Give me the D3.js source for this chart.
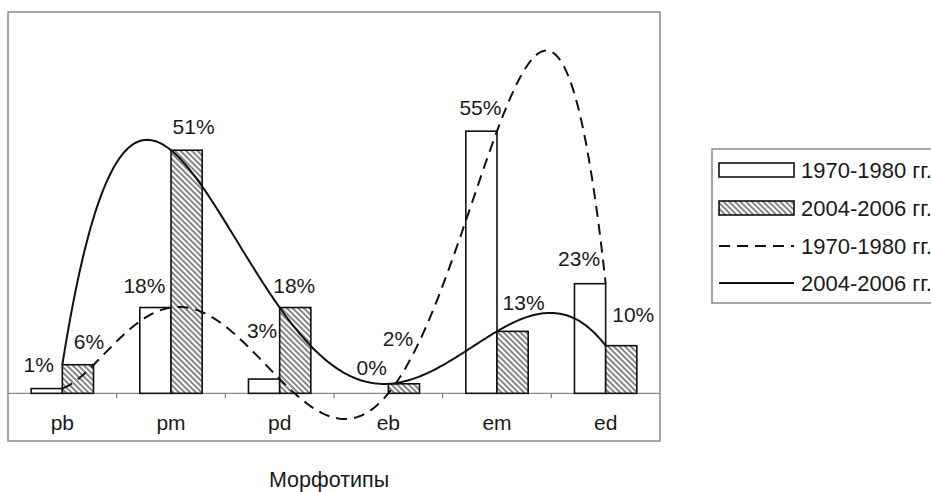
<!DOCTYPE html>
<html><head><meta charset="utf-8">
<script src="https://cdn.jsdelivr.net/npm/d3@7"></script>
<style>
html,body{margin:0;padding:0;background:#fff;}
svg{display:block;font-family:"Liberation Sans",Arial,sans-serif;}
</style></head>
<body>
<svg id="chart" width="931" height="492"></svg>
<script>
// ---- data ----
const categories = ["pb","pm","pd","eb","em","ed"];
const series1970 = [1, 18, 3, 0, 55, 23];     // 1970-1980 гг.
const series2004 = [6, 51, 18, 2, 13, 10];    // 2004-2006 гг.
const labelName1970 = "1970-1980 гг.";
const labelName2004 = "2004-2006 гг.";
const axisTitle = "Морфотипы";
const yDomain = [-10, 80];
// manual label nudges (dx, dy from bar top), as placed in the original
const nudge1970 = [[-8,-17],[-11,-15],[-2,-41],[-1,-18],[-1,-16],[-11,-18]];
const nudge2004 = [[11,-16],[7,-16],[-1,-15],[-6,-38],[11,-21],[12,-24]];

const svg = d3.select("#chart");
const ink = "#1a1a1a";
const fs = 21;
const frame = {l:8, r:660, t:12, b:441};

const x = d3.scaleBand().domain(categories).range([frame.l, frame.r]).padding(0);
const y = d3.scaleLinear().domain(yDomain).range([frame.b, frame.t]);
const bw = x.bandwidth() * 0.287;
const cx = c => x(c) + x.bandwidth()/2;

// hatch pattern
const defs = svg.append("defs");
const pat = defs.append("pattern").attr("id","hatch")
  .attr("patternUnits","userSpaceOnUse").attr("width",4).attr("height",4)
  .attr("patternTransform","rotate(-45)");
pat.append("rect").attr("width",4).attr("height",4).attr("fill","#fff");
pat.append("line").attr("x1",1).attr("y1",0).attr("x2",1).attr("y2",4)
  .attr("stroke","#222").attr("stroke-width",1.1);

// frame
svg.append("rect").attr("x",frame.l).attr("y",frame.t)
  .attr("width",frame.r-frame.l).attr("height",frame.b-frame.t)
  .attr("fill","none").attr("stroke","#8a8a8a").attr("stroke-width",1.5);

// zero line + ticks
const y0 = y(0);
svg.append("line").attr("x1",frame.l).attr("x2",frame.r).attr("y1",y0).attr("y2",y0)
  .attr("stroke","#8a8a8a").attr("stroke-width",1.3);
svg.append("g").selectAll("line").data(categories.slice(1)).join("line")
  .attr("x1",d=>x(d)).attr("x2",d=>x(d)).attr("y1",y0).attr("y2",y0+5)
  .attr("stroke","#8a8a8a").attr("stroke-width",1.3);

// category labels
svg.append("g").selectAll("text").data(categories).join("text")
  .attr("x",d=>cx(d)).attr("y",430).attr("text-anchor","middle")
  .attr("font-size",fs).attr("fill",ink).text(d=>d);

// bars
const g = svg.append("g");
g.selectAll("rect.a").data(categories).join("rect").attr("class","a")
  .attr("x",d=>cx(d)-bw).attr("width",bw)
  .attr("y",(d,i)=>y(series1970[i])).attr("height",(d,i)=>Math.max(0,y0-y(series1970[i])))
  .attr("fill","#fff").attr("stroke","#111").attr("stroke-width",1.6);
g.selectAll("rect.b").data(categories).join("rect").attr("class","b")
  .attr("x",d=>cx(d)).attr("width",bw)
  .attr("y",(d,i)=>y(series2004[i])).attr("height",(d,i)=>Math.max(0,y0-y(series2004[i])))
  .attr("fill","url(#hatch)").attr("stroke","#111").attr("stroke-width",1.6);

// polynomial trendlines (degree 5 through the six points, as the original)
function lagrange(vals){
  const n = vals.length;
  return s => {
    let sum = 0;
    for (let i=0;i<n;i++){
      let L = 1;
      for (let j=0;j<n;j++) if (j!==i) L *= (s-j)/(i-j);
      sum += vals[i]*L;
    }
    return sum;
  };
}
const xi = d3.scaleLinear().domain([0, categories.length-1]).range([cx(categories[0]), cx(categories[categories.length-1])]);
const samples = d3.range(0, categories.length-1+1e-9, 0.02);
const lineGen = f => d3.line().x(s=>xi(s)).y(s=>y(f(s)));
svg.append("path").attr("d", lineGen(lagrange(series1970))(samples))
  .attr("fill","none").attr("stroke","#111").attr("stroke-width",2)
  .attr("stroke-dasharray","11,7");
svg.append("path").attr("d", lineGen(lagrange(series2004))(samples))
  .attr("fill","none").attr("stroke","#111").attr("stroke-width",2);

// data labels
const lab = svg.append("g").attr("font-size",fs).attr("fill",ink).attr("text-anchor","middle");
lab.selectAll("text.a").data(categories).join("text").attr("class","a")
  .attr("x",(d,i)=>cx(d)-bw/2+nudge1970[i][0]).attr("y",(d,i)=>y(series1970[i])+nudge1970[i][1])
  .text((d,i)=>series1970[i]+"%");
lab.selectAll("text.b").data(categories).join("text").attr("class","b")
  .attr("x",(d,i)=>cx(d)+bw/2+nudge2004[i][0]).attr("y",(d,i)=>y(series2004[i])+nudge2004[i][1])
  .text((d,i)=>series2004[i]+"%");

// axis title
svg.append("text").attr("x",329).attr("y",487).attr("text-anchor","middle")
  .attr("font-size",21.5).attr("fill",ink).text(axisTitle);

// legend
const lg = svg.append("g");
lg.append("rect").attr("x",712).attr("y",149).attr("width",240).attr("height",154)
  .attr("fill","#fff").attr("stroke","#8a8a8a").attr("stroke-width",1.5);
const rows = [170, 208, 246, 283];
lg.append("rect").attr("x",719).attr("y",rows[0]-7).attr("width",75).attr("height",14)
  .attr("fill","#fff").attr("stroke","#111").attr("stroke-width",1.6);
lg.append("rect").attr("x",719).attr("y",rows[1]-7).attr("width",75).attr("height",14)
  .attr("fill","url(#hatch)").attr("stroke","#111").attr("stroke-width",1.6);
lg.append("line").attr("x1",719).attr("x2",794).attr("y1",rows[2]).attr("y2",rows[2])
  .attr("stroke","#111").attr("stroke-width",2).attr("stroke-dasharray","11,7");
lg.append("line").attr("x1",719).attr("x2",794).attr("y1",rows[3]).attr("y2",rows[3])
  .attr("stroke","#111").attr("stroke-width",2);
lg.selectAll("text").data([labelName1970,labelName2004,labelName1970,labelName2004]).join("text")
  .attr("x",801).attr("y",(d,i)=>rows[i]+8).attr("font-size",22).attr("fill",ink).text(d=>d);
</script>
</body></html>
